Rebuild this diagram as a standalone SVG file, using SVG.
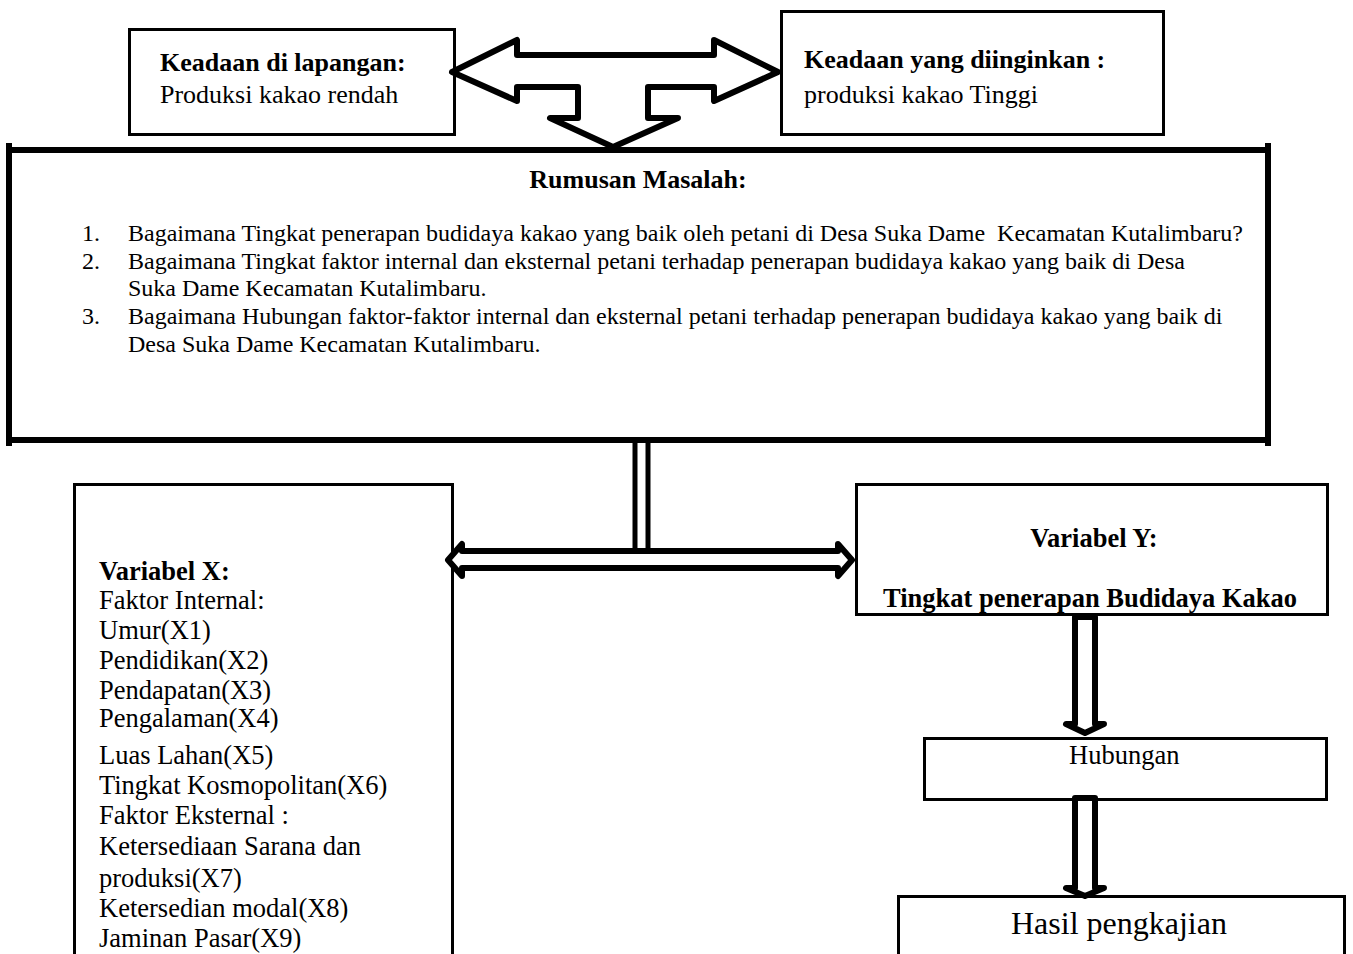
<svg xmlns="http://www.w3.org/2000/svg" width="1353" height="954" viewBox="0 0 1353 954">
<style>
text{font-family:"Liberation Serif","Times New Roman",serif;fill:#000}
.b{font-weight:bold}
.box{fill:#fff;stroke:#000;stroke-width:3}
.big{stroke:#000;stroke-width:6;fill:none}
.arr{fill:#fff;stroke:#000;stroke-width:6;stroke-linejoin:round}
.t26{font-size:26px}
.t24{font-size:24px}
.t265{font-size:26.5px}
</style>
<rect width="1353" height="954" fill="#fff"/>
<g id="box-lapangan">
<rect class="box" x="129.5" y="29.5" width="325" height="105"/>
<text class="b t26" x="160" y="71">Keadaan di lapangan:</text>
<text class="t26" x="160" y="103">Produksi kakao rendah</text>
</g>
<g id="box-diinginkan">
<rect class="box" x="781.5" y="11.5" width="382" height="123"/>
<text class="b t26" x="804" y="68">Keadaan yang diinginkan :</text>
<text class="t26" x="804" y="103">produksi kakao Tinggi</text>
</g>
<g id="box-rumusan">
<rect x="9" y="150" width="1259" height="290" fill="#fff"/>
<line class="big" x1="6" y1="150" x2="1271" y2="150"/>
<line class="big" x1="6" y1="440" x2="1271" y2="440"/>
<line class="big" x1="9" y1="143" x2="9" y2="446"/>
<line class="big" x1="1268" y1="143" x2="1268" y2="446"/>
<text class="b t26" x="638" y="188" text-anchor="middle">Rumusan Masalah:</text>
<g class="t24">
<text x="82" y="241">1.</text>
<text x="128" y="241" xml:space="preserve">Bagaimana Tingkat penerapan budidaya kakao yang baik oleh petani di Desa Suka Dame  Kecamatan Kutalimbaru?</text>
<text x="82" y="269">2.</text>
<text x="128" y="269">Bagaimana Tingkat faktor internal dan eksternal petani terhadap penerapan budidaya kakao yang baik di Desa</text>
<text x="128" y="296">Suka Dame Kecamatan Kutalimbaru.</text>
<text x="82" y="324">3.</text>
<text x="128" y="324">Bagaimana Hubungan faktor-faktor internal dan eksternal petani terhadap penerapan budidaya kakao yang baik di</text>
<text x="128" y="352">Desa Suka Dame Kecamatan Kutalimbaru.</text>
</g>
</g>
<g id="box-x">
<rect class="box" x="74.5" y="484.5" width="378" height="520"/>
<g class="t265">
<text class="b" x="99" y="580">Variabel X:</text>
<text x="99" y="609">Faktor Internal:</text>
<text x="99" y="639">Umur(X1)</text>
<text x="99" y="669">Pendidikan(X2)</text>
<text x="99" y="699">Pendapatan(X3)</text>
<text x="99" y="727">Pengalaman(X4)</text>
<text x="99" y="764">Luas Lahan(X5)</text>
<text x="99" y="794">Tingkat Kosmopolitan(X6)</text>
<text x="99" y="824">Faktor Eksternal :</text>
<text x="99" y="855">Ketersediaan Sarana dan</text>
<text x="99" y="887">produksi(X7)</text>
<text x="99" y="917">Ketersedian modal(X8)</text>
<text x="99" y="947">Jaminan Pasar(X9)</text>
</g>
</g>
<g id="box-y">
<rect class="box" x="856.5" y="484.5" width="471" height="130"/>
<text class="b t265" x="1094" y="547" text-anchor="middle">Variabel Y:</text>
<text class="b t265" x="1090" y="607" text-anchor="middle">Tingkat penerapan Budidaya Kakao</text>
</g>
<g id="box-hubungan">
<rect class="box" x="924.5" y="738.5" width="402" height="61"/>
<text class="t265" x="1069" y="764">Hubungan</text>
</g>
<g id="box-hasil">
<rect class="box" x="898.5" y="896.5" width="446" height="100"/>
<text x="1011" y="934" style="font-size:32px">Hasil pengkajian</text>
</g>
<g id="connectors">
<path class="arr" d="M452,72 L517,40 L517,55 L714,55 L714,40 L778,72 L714,101 L714,87 L648,87 L648,118 L678,118 L613,147 L550,118 L578,118 L578,87 L517,87 L517,101 Z"/>
<line x1="635" y1="441" x2="635" y2="550" stroke="#000" stroke-width="5"/>
<line x1="648" y1="441" x2="648" y2="550" stroke="#000" stroke-width="5"/>
<path class="arr" d="M448,560 L462,544 L462,551 L838,551 L838,544 L852,560 L838,576 L838,568 L462,568 L462,576 Z"/>
<path class="arr" d="M1075,617 L1095,617 L1095,724 L1104,724 L1085,733 L1066,724 L1075,724 Z"/>
<path class="arr" d="M1075,798 L1095,798 L1095,888 L1104,888 L1085,896 L1066,888 L1075,888 Z"/>
</g>
</svg>
